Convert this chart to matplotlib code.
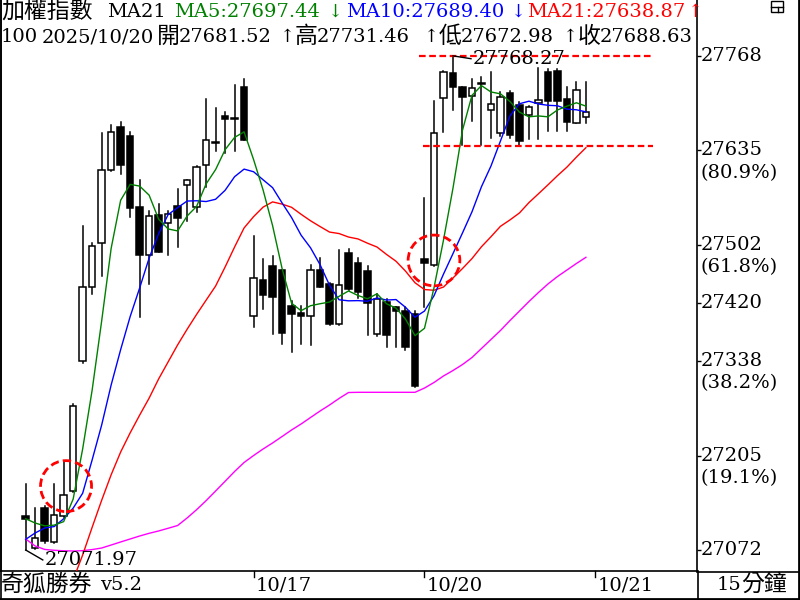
import numpy as np
import matplotlib.pyplot as plt
import matplotlib.transforms as mtransforms
from matplotlib.patches import Ellipse, Rectangle
from matplotlib.lines import Line2D

plt.rcParams['font.family'] = ['DejaVu Serif', 'Noto Sans CJK TC']

# 15 minute bars: last 6 of 10/15, then 10/16, 10/17, 10/20 (18 bars a day)
opens = [27120, 27075, 27131, 27083, 27120, 27155,
         27338, 27443, 27504, 27607, 27668, 27655, 27555, 27487, 27544,
         27533, 27557, 27586, 27555, 27615, 27647, 27684, 27681, 27724,
         27402, 27452, 27472, 27467, 27416, 27406, 27402, 27467, 27447,
         27390, 27490, 27476, 27465, 27377, 27422, 27414, 27409, 27405,
         27482, 27473, 27709, 27744, 27724, 27712, 27730, 27692, 27659,
         27716, 27699, 27685, 27702, 27745, 27747, 27707, 27673, 27681.52]
highs = [27165, 27131, 27134, 27165, 27196, 27278,
         27529, 27505, 27660, 27671, 27675, 27661, 27593, 27550, 27560,
         27550, 27580, 27594, 27613, 27707, 27695, 27689, 27727, 27736,
         27515, 27482, 27486, 27467, 27423, 27416, 27473, 27483, 27448,
         27495, 27496, 27483, 27472, 27433, 27426, 27415, 27414, 27409,
         27568, 27704, 27747, 27768.27, 27724, 27736, 27739, 27745, 27717,
         27719, 27703, 27698, 27751, 27750, 27750, 27725, 27732, 27731.46]
lows = [27071.97, 27074, 27082, 27082, 27118, 27154,
        27336, 27433, 27458, 27606, 27602, 27541, 27400, 27447, 27492,
        27488, 27499, 27536, 27548, 27583, 27634, 27632, 27634, 27650,
        27386, 27412, 27376, 27362, 27351, 27362, 27361, 27443, 27389,
        27389, 27439, 27427, 27375, 27373, 27358, 27358, 27354, 27302,
        27414, 27472, 27661, 27692, 27643, 27677, 27643, 27653, 27655,
        27653, 27641, 27651, 27651, 27663, 27663, 27663, 27673, 27672.98]
closes = [27116, 27089, 27085, 27121, 27149, 27275,
          27442, 27500, 27607, 27661, 27614, 27554, 27488, 27543, 27492,
          27545, 27540, 27593, 27611, 27650, 27646, 27680, 27680, 27650,
          27455, 27432, 27429, 27378, 27405, 27402, 27467, 27443, 27390,
          27445, 27440, 27435, 27420, 27425, 27375, 27409, 27358, 27303,
          27477, 27660, 27745, 27724, 27711, 27723, 27729, 27700, 27711,
          27657, 27648, 27696, 27706, 27705, 27705, 27675, 27720, 27688.63]

ma5 = [27116, 27110, 27106, 27107, 27112.0, 27143.8, 27214.4, 27297.4,
       27394.6, 27497.0, 27564.8, 27587.2, 27584.8, 27572.0, 27538.2,
       27524.4, 27521.6, 27542.6, 27556.2, 27587.8, 27608.0, 27636.0,
       27653.4, 27661.2, 27622.2, 27579.4, 27529.2, 27468.8, 27419.8,
       27409.2, 27416.2, 27419.0, 27421.4, 27429.4, 27437.0, 27430.6,
       27426.0, 27433.0, 27419.0, 27412.8, 27397.4, 27374.0, 27384.4,
       27441.4, 27508.6, 27581.8, 27663.4, 27712.6, 27726.4, 27717.4,
       27714.8, 27704.0, 27689.0, 27682.4, 27683.6, 27682.4, 27692.0,
       27697.4, 27702.2, 27697.44]
ma10 = [27087, 27096, 27103, 27105, 27116, 27131, 27152, 27199, 27248,
        27304.5, 27354.3, 27400.8, 27441.1, 27483.3, 27517.6, 27544.6,
        27554.4, 27563.7, 27564.1, 27563.0, 27566.2, 27578.8, 27598.0,
        27608.7, 27605.0, 27593.7, 27582.6, 27561.1, 27540.5, 27515.7,
        27497.8, 27474.1, 27445.1, 27424.6, 27423.1, 27423.4, 27422.5,
        27427.2, 27424.2, 27424.9, 27414.0, 27400.0, 27408.7, 27430.2,
        27460.7, 27489.6, 27518.7, 27548.5, 27583.9, 27613.0, 27648.3,
        27683.7, 27700.8, 27704.4, 27700.5, 27698.6, 27698.0, 27693.2,
        27692.3, 27689.40]
ma21 = [np.nan] * 5 + [
        27030, 27065, 27104, 27142, 27178, 27210, 27237, 27262, 27286,
        27313, 27337, 27361, 27383, 27404, 27424, 27443.9, 27470.7,
        27498.9, 27525.8, 27541.7, 27555.1, 27562.5, 27559.4, 27554.9,
        27545.1, 27535.9, 27527.8, 27520.0, 27517.9, 27513.0, 27510.3,
        27504.3, 27498.9, 27488.5, 27478.9, 27465.0, 27448.6, 27439.0,
        27438.0, 27442.5, 27455.3, 27468.6, 27482.6, 27499.3, 27513.4,
        27528.1, 27537.1, 27546.9, 27561.5, 27573.9, 27586.5, 27599.4,
        27611.5, 27625.6, 27638.87]
ma_long = [27087.5, 27077.6, 27072.8, 27071.6, 27070.9, 27070.6, 27071.0,
           27072.6, 27074.8, 27079.0, 27083.3, 27087.5, 27091.7, 27095.5,
           27098.8, 27102.6, 27106.5, 27117.1, 27128.8, 27141.5, 27155.1,
           27168.8, 27182.6, 27195.3, 27205.1, 27214.3, 27222.8, 27231.9,
           27241.1, 27249.5, 27258.7, 27267.8, 27276.3, 27285.5, 27293.9,
           27294.2, 27294.2, 27294.2, 27294.2, 27294.2, 27294.2, 27294.2,
           27300.2, 27308.0, 27317.2, 27324.9, 27333.3, 27343.2, 27355.9,
           27368.6, 27381.3, 27395.3, 27408.7, 27422.1, 27434.8, 27446.8,
           27457.3, 27466.5, 27475.7, 27484.4]

date_labels = ['10/17', '10/20', '10/21']
date_pos = [24, 42, 60]

right_ticks = [27768, 27635, 27502, 27420, 27338, 27205, 27072]
right_pct = ['', '(80.9%)', '(61.8%)', '', '(38.2%)', '(19.1%)', '']

hi_val, hi_idx = 27768.27, 45
lo_val, lo_idx = 27071.97, 0
support = 27641

W, H = 800, 600
FS = 14
FS_CJK = 16.5
FS_ARR = 13


def fx(x):
    return x / W


def fy(y):
    return 1 - y / H


fig = plt.figure(figsize=(W / 100, H / 100), dpi=100)
ax = fig.add_axes([1 / W, 29 / H, 696 / W, 571 / H])
ax.set_xlim(-2.6, 70.7)
ax.set_ylim(27042.4, 27847)

# candles
for i in range(len(closes)):
    o, h, l, c = opens[i], highs[i], lows[i], closes[i]
    ax.plot([i, i], [l, h], color='black', lw=1.1, zorder=2)
    fc = 'white' if c > o else 'black'
    ax.add_patch(Rectangle((i - 0.34, min(o, c)), 0.68, max(abs(c - o), 1.4),
                           facecolor=fc, edgecolor='black', lw=1.1, zorder=3))

xs = np.arange(len(closes))
ax.plot(xs, ma_long, color='#ff00ff', lw=1, zorder=4)
ax.plot(xs, ma21, color='#ff0000', lw=1, zorder=4)
ax.plot(xs, ma10, color='#0000ff', lw=1, zorder=4)
ax.plot(xs, ma5, color='#008000', lw=1, zorder=4)

# red dashed levels and circles
ax.plot([41.4, 66.1], [hi_val, hi_val], color='red', lw=1.6, ls=(0, (3, 1.6)), zorder=5)
ax.plot([41.8, 66.1], [support, support], color='red', lw=1.6, ls=(0, (3, 1.6)), zorder=5)
ax.add_patch(Ellipse((4.25, 27162), 5.37, 71.8, fill=False, edgecolor='red',
                     lw=2, ls=(0, (3, 1.5)), zorder=6))
ax.add_patch(Ellipse((43.0, 27480), 5.45, 71.5, fill=False, edgecolor='red',
                     lw=2, ls=(0, (3, 1.5)), zorder=6))

# high / low marks
ax.plot([hi_idx, hi_idx + 1.9], [hi_val, hi_val - 4], color='black', lw=1, zorder=6)
ax.text(hi_idx + 2.1, hi_val - 4, '27768.27', fontsize=FS, va='center', ha='left', zorder=7)
ax.plot([lo_idx, lo_idx + 1.8], [lo_val, lo_val - 14], color='black', lw=1, zorder=6)
ax.text(lo_idx + 2.0, lo_val - 14, '27071.97', fontsize=FS, va='center', ha='left', zorder=7)

# axes frame
ax.spines['top'].set_visible(False)
for s in ['left', 'right', 'bottom']:
    ax.spines[s].set_linewidth(1.2)
ax.set_xticks([])
ax.yaxis.tick_right()
ax.set_yticks(right_ticks)
ax.set_yticklabels([])
ax.tick_params(axis='y', length=3, width=1, direction='out')
trans = mtransforms.blended_transform_factory(ax.transAxes, ax.transData)
for v, p in zip(right_ticks, right_pct):
    ax.annotate(str(v), xy=(1, v), xycoords=trans, xytext=(2.5, 0),
                textcoords='offset points', va='center', ha='left', fontsize=FS)
    if p:
        ax.annotate(p, xy=(1, v), xycoords=trans, xytext=(2.5, -16),
                    textcoords='offset points', va='center', ha='left', fontsize=FS)

# bottom strip
btrans = mtransforms.blended_transform_factory(ax.transData, fig.transFigure)
for lab, pos in zip(date_labels, date_pos):
    fig.add_artist(Line2D([pos, pos], [fy(571), fy(577)], transform=btrans, color='black', lw=1))
    fig.text(pos + 0.25, fy(585), lab, transform=btrans, fontsize=FS, va='center', ha='left')
fig.text(fx(1), fy(585), '奇狐勝券', fontsize=FS_CJK, va='center', ha='left')
fig.text(fx(100), fy(585), 'v5.2', fontsize=FS, va='center', ha='left')
fig.text(fx(717), fy(585), '15', fontsize=FS, va='center', ha='left')
fig.text(fx(741), fy(585), '分鐘', fontsize=FS_CJK, va='center', ha='left')


def hline(x0, x1, y, lw=1.2):
    fig.add_artist(Line2D([fx(x0), fx(x1)], [fy(y), fy(y)], color='black', lw=lw))


def vline(x, y0, y1, lw=1.2):
    fig.add_artist(Line2D([fx(x), fx(x)], [fy(y0), fy(y1)], color='black', lw=lw))


hline(697, 799, 571.5)
hline(0, 800, 598.5, lw=2)
vline(697.5, 571, 599)
vline(798.5, 0, 600, lw=2)
vline(0.7, 0, 600)

# small window icon
fig.add_artist(Rectangle((fx(771), fy(12)), 12 / W, 11 / H, transform=fig.transFigure,
                         fill=False, edgecolor='black', lw=1))
hline(771, 783, 6.5, lw=1)
vline(777.5, 6.5, 12, lw=1)

# header
row1 = [('加權指數', 1, 'black', FS_CJK), ('MA21', 107, 'black', FS),
        ('MA5:27697.44', 174, '#008000', FS), ('↓', 327, '#008000', FS_ARR),
        ('MA10:27689.40', 346, '#0000ff', FS), ('↓', 510, '#0000ff', FS_ARR),
        ('MA21:27638.87', 527, '#ff0000', FS), ('↑', 687, '#ff0000', FS_ARR)]
for t, x0, col, fs in row1:
    fig.text(fx(x0), fy(12), t, color=col, fontsize=fs, va='center', ha='left')
row2 = [('100', 1, FS), ('2025/10/20', 42, FS), ('開', 157, FS_CJK),
        ('27681.52', 179, FS), ('↑', 279, FS_ARR), ('高', 295, FS_CJK),
        ('27731.46', 317, FS), ('↑', 423, FS_ARR), ('低', 439, FS_CJK),
        ('27672.98', 461, FS), ('↑', 562, FS_ARR), ('收', 578, FS_CJK),
        ('27688.63', 600, FS)]
for t, x0, fs in row2:
    fig.text(fx(x0), fy(37), t, color='black', fontsize=fs, va='center', ha='left')

fig.savefig('out.png', dpi=100)
